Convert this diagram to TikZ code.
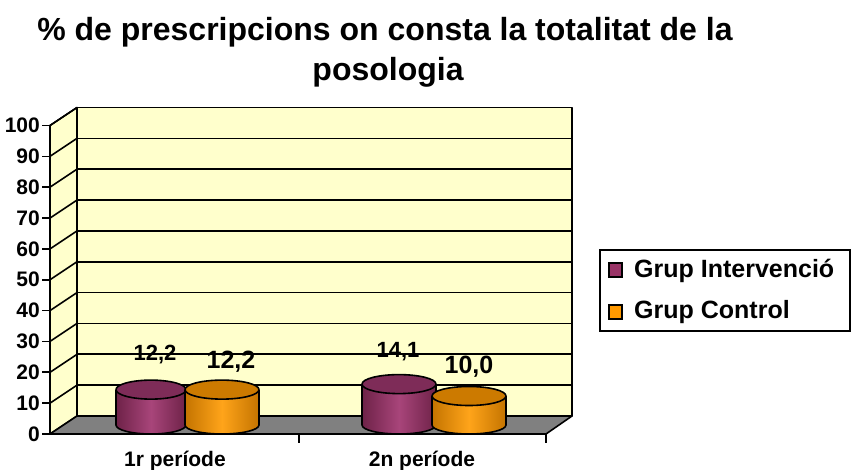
\documentclass[tikz,border=0pt]{standalone}
\usepackage{fontspec}
\setmainfont{Liberation Sans}
\begin{document}
\begin{tikzpicture}[x=1pt,y=-1pt,
  wall/.style={fill=wallyellow,draw=black,line width=1.6pt,line join=round},
  grid/.style={draw=black,line width=1.6pt},
  ylab/.style={anchor=east,font=\fontsize{21}{21}\selectfont\bfseries,inner sep=0pt},
  xlab/.style={font=\fontsize{21}{21}\selectfont\bfseries,inner sep=0pt},
  vlab/.style={font=\bfseries,inner sep=0pt},
  legtext/.style={anchor=west,font=\fontsize{25}{25}\selectfont\bfseries,inner sep=0pt},
  cylout/.style={draw=black,line width=1.6pt,line join=round}]
\definecolor{wallyellow}{HTML}{FFFFCC}
\definecolor{floorgray}{HTML}{808080}
\definecolor{purp}{HTML}{993366}
\definecolor{purpdark}{HTML}{6E2248}
\definecolor{purplight}{HTML}{A8457A}
\definecolor{purptop}{HTML}{7E2C58}
\definecolor{oran}{HTML}{FF9900}
\definecolor{orandark}{HTML}{C47400}
\definecolor{oranlight}{HTML}{FFA41A}
\definecolor{orantop}{HTML}{CC7A00}
\useasboundingbox (0,0) rectangle (852,470);
\fill[white] (0,0) rectangle (852,470);
% title
\node[font=\fontsize{32}{32}\selectfont\bfseries,inner sep=0pt] (title1) at (385,32) {\% de prescripcions on consta la totalitat de la};
\node[font=\fontsize{32}{32}\selectfont\bfseries,inner sep=0pt] (title2) at (388,72) {posologia};
% back wall
\path[wall] (77,107.5) rectangle (572,416);
% left wall
\path[wall] (50,125.5) -- (77,107.5) -- (77,416) -- (50,434) -- cycle;
% grid lines
\foreach \v in {10,20,...,100}{
  \pgfmathsetmacro{\yb}{416-3.085*\v}
  \pgfmathsetmacro{\yf}{434-3.085*\v}
  \draw[grid] (77,\yb) -- (572,\yb);
  \draw[grid] (50,\yf) -- (77,\yb);
  \draw[grid] (42,\yf) -- (50,\yf);
  \node[ylab] (y\v) at (40,\yf) {\v};
}
\node[ylab] (y0) at (40,434) {0};
% floor
\path[fill=floorgray,draw=black,line width=1.6pt,line join=round] (50,434) -- (77,416) -- (572,416) -- (546,434) -- cycle;
\draw[grid] (42,434) -- (50,434);
\draw[grid] (50,125.5) -- (50,434);
\draw[grid] (299,434) -- (299,443);
\draw[grid] (546,434) -- (546,443);
% cylinders
\newcommand{\cyl}[6]{% cx, rx, value, left, mid, right
  \pgfmathsetmacro{\yt}{425-2.9*#3}
  \path[left color=#4,right color=#6,middle color=#5]
    (#1-#2,\yt) -- (#1-#2,425) arc[start angle=180,end angle=360,x radius=#2 pt,y radius=9pt] -- (#1+#2,\yt) -- cycle;
  \draw[cylout] (#1-#2,\yt) -- (#1-#2,425) arc[start angle=180,end angle=360,x radius=#2 pt,y radius=9pt] -- (#1+#2,\yt);
}
\cyl{151}{35}{12.2}{purpdark}{purplight}{purpdark}
\draw[cylout,fill=purptop] (151,{425-2.9*12.2}) ellipse[x radius=35pt,y radius=9.5pt];
\cyl{222}{37}{12.2}{orandark}{oranlight}{orandark}
\draw[cylout,fill=orantop] (222,{425-2.9*12.2}) ellipse[x radius=37pt,y radius=9.5pt];
\cyl{399}{37}{14.1}{purpdark}{purplight}{purpdark}
\draw[cylout,fill=purptop] (399,{425-2.9*14.1}) ellipse[x radius=37pt,y radius=9.5pt];
\cyl{469}{37}{10.0}{orandark}{oranlight}{orandark}
\draw[cylout,fill=orantop] (469,{425-2.9*10.0}) ellipse[x radius=37pt,y radius=9.5pt];
% value labels
\node[vlab,font=\fontsize{22}{22}\selectfont\bfseries] (v1) at (155,355) {12,2};
\node[vlab,font=\fontsize{25}{25}\selectfont\bfseries] (v2) at (231,362) {12,2};
\node[vlab,font=\fontsize{22}{22}\selectfont\bfseries] (v3) at (398,352) {14,1};
\node[vlab,font=\fontsize{25}{25}\selectfont\bfseries] (v4) at (469,367) {10,0};
% x labels
\node[xlab] (x1) at (175,461) {1r període};
\node[xlab] (x2) at (422,461) {2n període};
% legend
\draw[line width=1.8pt] (600,250) rectangle (850,331);
\draw[fill=purp,line width=1.4pt] (609,263) rectangle (622,277);
\draw[fill=oran,line width=1.4pt] (609,305) rectangle (622,319);
\node[legtext] (l1) at (634,271) {Grup Intervenció};
\node[legtext] (l2) at (634,312) {Grup Control};
\end{tikzpicture}
\end{document}
